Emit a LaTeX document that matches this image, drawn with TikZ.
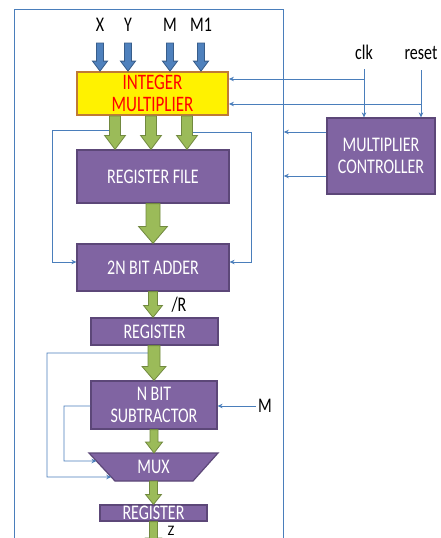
\documentclass[tikz,border=0pt]{standalone}
\usepackage{fontspec}
\setmainfont{Carlito}
\usepackage{graphicx}
\usetikzlibrary{arrows.meta,calc}
\definecolor{purp}{HTML}{8064A2}
\definecolor{purpb}{HTML}{5C4778}
\definecolor{gfill}{HTML}{9BBB59}
\definecolor{gline}{HTML}{71893F}
\definecolor{bfill}{HTML}{4F81BD}
\definecolor{bline}{HTML}{385D8A}
\definecolor{wirec}{HTML}{4A7EBB}
\definecolor{ybord}{HTML}{BF7A35}
\newcommand\vs[1]{\scalebox{1}[1.3]{#1}}
\newcommand\barrow[6]{\path[#1] let \p1=(#2), \p2=(#3) in
  (\x1-#4,\y1) -- (\x1-#4,\y2+#6) -- (\x1-#5,\y2+#6) -- (\x1,\y2) --
  (\x1+#5,\y2+#6) -- (\x1+#4,\y2+#6) -- (\x1+#4,\y1) -- cycle;}
\begin{document}
\begin{tikzpicture}[x=1pt,y=-1pt,
  font=\fontsize{16}{22.5}\selectfont,
  block/.style={draw=purpb,line width=1.2pt,fill=purp,text=white,inner sep=0pt,align=center},
  garr/.style={fill=gfill,draw=gline,line width=0.8pt},
  barr/.style={fill=bfill,draw=bline,line width=0.8pt},
  wire/.style={draw=wirec,line width=0.8pt},
  wtip/.style={wire,-{Stealth[length=5pt,width=4.5pt]}},
  lbl/.style={inner sep=0pt,anchor=base}]
\useasboundingbox (0,0) rectangle (441,538);
\clip (0,0) rectangle (441,538);
\fill[white] (0,0) rectangle (441,538);
% frame
\node[draw=wirec,line width=0.8pt,inner sep=0pt,minimum width=269pt,minimum height=600pt,anchor=north west] (frame) at (14,9) {};
% boxes
\node[draw=ybord,line width=1.8pt,fill=yellow,text=red,inner sep=0pt,align=center,minimum width=151pt,minimum height=43pt,font=\fontsize{17}{22}\selectfont] (mult) at (152.5,93.5) {\vs{INTEGER}\\\vs{MULTIPLIER}};
\node[block,minimum width=152pt,minimum height=53pt] (regfile) at (153,176.5) {\vs{REGISTER FILE}};
\node[block,minimum width=152pt,minimum height=47pt] (adder) at (153,267.5) {\vs{2N BIT ADDER}};
\node[block,minimum width=127pt,minimum height=27pt] (reg1) at (154.5,331.5) {\vs{REGISTER}};
\node[block,minimum width=126pt,minimum height=48pt] (sub) at (154,405) {\vs{N BIT}\\\vs{SUBTRACTOR}};
\coordinate (mTL) at (89,453);
\coordinate (mTR) at (218,453);
\coordinate (mBR) at (193,481);
\coordinate (mBL) at (115,481);
\path[draw=purpb,line width=1.2pt,fill=purp] (mTL) -- (mTR) -- (mBR) -- (mBL) -- cycle;
\node[text=white,inner sep=0pt] (mux) at (153.5,467) {\vs{MUX}};
\node[block,minimum width=107pt,minimum height=16pt] (reg2) at (153.5,513) {\raisebox{1.5pt}{\vs{REGISTER}}};
\node[block,minimum width=108pt,minimum height=76pt] (ctrl) at (381,156) {\vs{MULTIPLIER}\\\vs{CONTROLLER}};
% labels
\node[lbl] (X) at (100,31) {\vs{X}};
\node[lbl] (Y) at (128,31) {\vs{Y}};
\node[lbl] (M) at (170,31) {\vs{M}};
\node[lbl] (M1) at (201,31) {\vs{M1}};
\node[lbl] (clk) at (364,59) {\vs{clk}};
\node[lbl] (reset) at (421,59) {\vs{reset}};
\node[lbl] (R) at (179,311) {\vs{/R}};
\node[lbl,font=\fontsize{14.5}{18}\selectfont] (Z) at (171,535) {Z};
\node[lbl] (Mr) at (265,412) {\vs{M}};
% wires
\coordinate (ya) at (0,79);
\coordinate (yb) at (0,104);
\coordinate (clkS) at ([yshift=-10pt]clk.base);
\coordinate (rstS) at ([yshift=-11pt]reset.base);
\draw[wtip] (clkS) -- (clkS |- ctrl.north);
\draw[wtip] (rstS) -- (rstS |- ctrl.north);
\draw[wtip] (clkS |- ya) -- (mult.east |- ya);
\draw[wtip] (rstS |- yb) -- (mult.east |- yb);
\coordinate (co1) at ([yshift=24pt]ctrl.west);
\coordinate (co2) at ([yshift=-20pt]ctrl.west);
\draw[wtip] (co1) -- (co1 -| frame.east);
\draw[wtip] (co2) -- (co2 -| frame.east);
\coordinate (fa) at (110,130);
\coordinate (fxL) at (52,262);
\draw[wtip] (fa) -| (fxL) -- (adder.west |- fxL);
\coordinate (fb) at (192,132);
\coordinate (fxR) at (251,262);
\draw[wtip] (fb) -| (fxR) -- (adder.east |- fxR);
\coordinate (eC) at ($(mTL)!0.857!(mBL)$);
\coordinate (eD) at ($(mTL)!0.286!(mBL)$);
\coordinate (fc) at (148,353);
\coordinate (fxC) at (47,477);
\draw[wtip] (fc) -| (fxC) -- (eC);
\coordinate (yd) at (0,406);
\coordinate (fxD) at (64,461);
\draw[wtip] (sub.west |- yd) -| (fxD) -- (eD);
\coordinate (ms) at ([xshift=-2pt]Mr.west);
\draw[wtip] (ms |- yd) -- (sub.east |- yd);
% blue input arrows
\barrow{barr}{[yshift=-12pt]X.base}{mult.north -| X.base}{3.5pt}{7.5pt}{10pt}
\barrow{barr}{[yshift=-12pt]Y.base}{mult.north -| Y.base}{3.5pt}{7.5pt}{10pt}
\barrow{barr}{[yshift=-12pt]M.base}{mult.north -| M.base}{3.5pt}{7.5pt}{10pt}
\barrow{barr}{[yshift=-12pt]M1.base}{mult.north -| M1.base}{3.5pt}{7.5pt}{10pt}
% green arrows
\coordinate (g1) at (115,0);
\coordinate (g2) at (151,0);
\coordinate (g3) at (187,0);
\barrow{garr}{mult.south -| g1}{regfile.north -| g1}{5.5pt}{10.5pt}{14pt}
\barrow{garr}{mult.south -| g2}{regfile.north -| g2}{5.5pt}{10.5pt}{14pt}
\barrow{garr}{mult.south -| g3}{regfile.north -| g3}{5.5pt}{10.5pt}{14pt}
\barrow{garr}{regfile.south}{adder.north}{7pt}{14.5pt}{17pt}
\barrow{garr}{adder.south}{reg1.north -| adder.south}{4.5pt}{9.5pt}{12pt}
\barrow{garr}{reg1.south -| sub.north}{sub.north}{6pt}{12pt}{14pt}
\barrow{garr}{sub.south}{mTL -| sub.south}{4pt}{8.5pt}{11pt}
\barrow{garr}{mBL -| reg2.north}{reg2.north}{4pt}{8pt}{10pt}
\coordinate (zend) at (153.5,549);
\barrow{garr}{reg2.south}{zend}{4pt}{8pt}{11pt}
\end{tikzpicture}
\end{document}
